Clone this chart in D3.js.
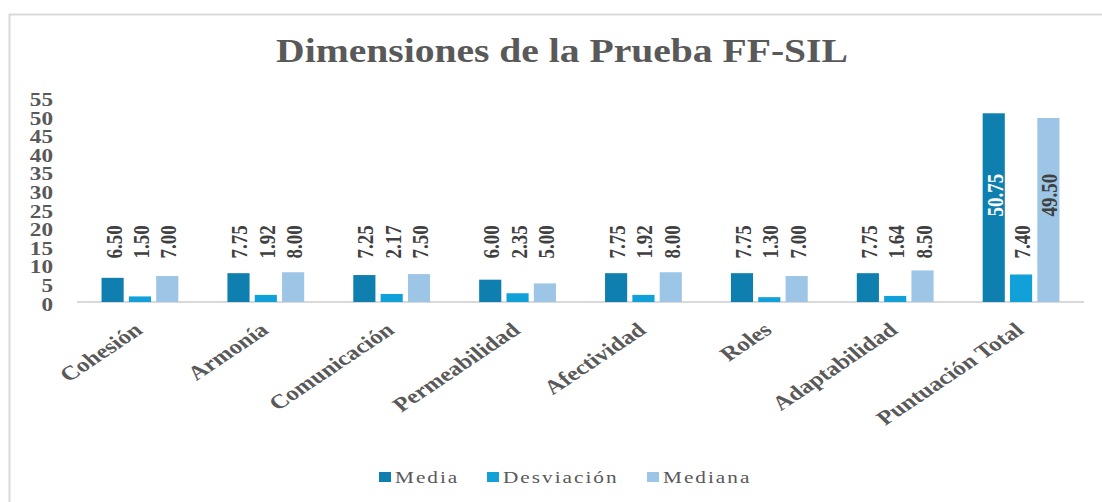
<!DOCTYPE html>
<html>
<head>
<meta charset="utf-8">
<script src="https://cdn.jsdelivr.net/npm/d3@7"></script>
<style>
  body { margin: 0; background: #fff; }
  svg { display: block; font-family: "Liberation Serif", "Times New Roman", serif; }
</style>
</head>
<body>
<svg id="chart" width="1102" height="502"></svg>
<script>
// === Data ===
const categories = ["Cohesión", "Armonía", "Comunicación", "Permeabilidad", "Afectividad", "Roles", "Adaptabilidad", "Puntuación Total"];
const seriesNames = ["Media", "Desviación", "Mediana"];
const media = [6.50, 7.75, 7.25, 6.00, 7.75, 7.75, 7.75, 50.75];
const desviacion = [1.50, 1.92, 2.17, 2.35, 1.92, 1.30, 1.64, 7.40];
const mediana = [7.00, 8.00, 7.50, 5.00, 8.00, 7.00, 8.50, 49.50];
const yTicks = [0, 5, 10, 15, 20, 25, 30, 35, 40, 45, 50, 55];

const seriesValues = [media, desviacion, mediana];
const colors = ["#0e7fae", "#12a0d8", "#9dc5e6"];

const svg = d3.select("#chart");
const stretch = 1.22; // el original se ve estirado en horizontal

// marco
svg.append("rect")
  .attr("x", 9.5).attr("y", 14.5)
  .attr("width", 1200).attr("height", 600)
  .attr("fill", "none")
  .attr("stroke", "#d9d9d9")
  .attr("stroke-width", 2);

// titulo
svg.append("text")
  .attr("transform", `translate(562,62) scale(1.2,1)`)
  .attr("text-anchor", "middle")
  .attr("font-size", 33)
  .attr("font-weight", "bold")
  .attr("fill", "#595959")
  .text("Dimensiones de la Prueba FF-SIL");

// === Escalas ===
const x0 = d3.scaleBand()
  .domain(categories)
  .range([77, 1084])
  .paddingInner(0.39)
  .paddingOuter(0.195);

const x1 = d3.scaleBand()
  .domain(seriesNames)
  .range([0, x0.bandwidth()])
  .paddingInner(0.19);

const y = d3.scaleLinear()
  .domain([0, 55])
  .range([302, 97.5]);

// eje Y (solo etiquetas)
const yAxis = svg.append("g")
  .attr("transform", "translate(53,0)")
  .call(d3.axisLeft(y).tickValues(yTicks).tickSize(0).tickPadding(0));
yAxis.select(".domain").remove();
yAxis.selectAll("text")
  .attr("x", null).attr("dy", null)
  .attr("transform", `translate(0,8) scale(${stretch},1)`)
  .attr("font-family", "Liberation Serif, serif")
  .attr("font-size", 19)
  .attr("font-weight", "bold")
  .attr("fill", "#595959")
  .attr("text-anchor", "end");

// linea base
svg.append("line")
  .attr("x1", x0.range()[0]).attr("x2", x0.range()[1])
  .attr("y1", y(0)).attr("y2", y(0))
  .attr("stroke", "#d9d9d9")
  .attr("stroke-width", 2);

// === Barras ===
const rows = categories.map((c, i) => ({
  category: c,
  values: seriesNames.map((s, k) => ({ series: s, k, value: seriesValues[k][i] }))
}));

const groups = svg.selectAll("g.group")
  .data(rows)
  .enter()
  .append("g")
  .attr("class", "group")
  .attr("transform", d => `translate(${x0(d.category)},0)`);

groups.selectAll("rect")
  .data(d => d.values)
  .enter()
  .append("rect")
  .attr("x", d => x1(d.series))
  .attr("y", d => y(d.value))
  .attr("width", x1.bandwidth())
  .attr("height", d => y(0) - y(d.value))
  .attr("fill", d => colors[d.k]);

// etiquetas de datos (rotadas)
const insideLimit = 20;
groups.selectAll("text.val")
  .data(d => d.values)
  .enter()
  .append("text")
  .attr("class", "val")
  .attr("transform", d => {
    const cx = x1(d.series) + x1.bandwidth() / 2 + 9;
    const ly = d.value > insideLimit ? y(23) : y(11.7);
    return `translate(${cx},${ly}) scale(${stretch},1) rotate(-90)`;
  })
  .attr("text-anchor", "start")
  .attr("font-size", 19)
  .attr("font-weight", "bold")
  .attr("fill", d => (d.value > insideLimit && d.k === 0) ? "#ffffff" : "#404040")
  .text(d => d.value.toFixed(2));

// etiquetas de categoria
svg.selectAll("text.cat")
  .data(categories)
  .enter()
  .append("text")
  .attr("class", "cat")
  .attr("transform", d => `translate(${x0(d) + x0.bandwidth() / 2 + 4},332) scale(1.25,1) rotate(-40)`)
  .attr("text-anchor", "end")
  .attr("font-size", 20)
  .attr("font-weight", "bold")
  .attr("fill", "#595959")
  .text(d => d);

// === Leyenda ===
const legendX = [379, 487, 647];
const legend = svg.selectAll("g.legend")
  .data(seriesNames)
  .enter()
  .append("g")
  .attr("class", "legend")
  .attr("transform", (d, i) => `translate(${legendX[i]},472)`);

legend.append("rect")
  .attr("width", 12).attr("height", 10)
  .attr("fill", (d, i) => colors[i]);

legend.append("text")
  .attr("transform", "translate(16,10.5) scale(1.25,1)")
  .attr("font-size", 17)
  .attr("letter-spacing", 1.6)
  .attr("fill", "#595959")
  .text(d => d);
</script>
</body>
</html>
